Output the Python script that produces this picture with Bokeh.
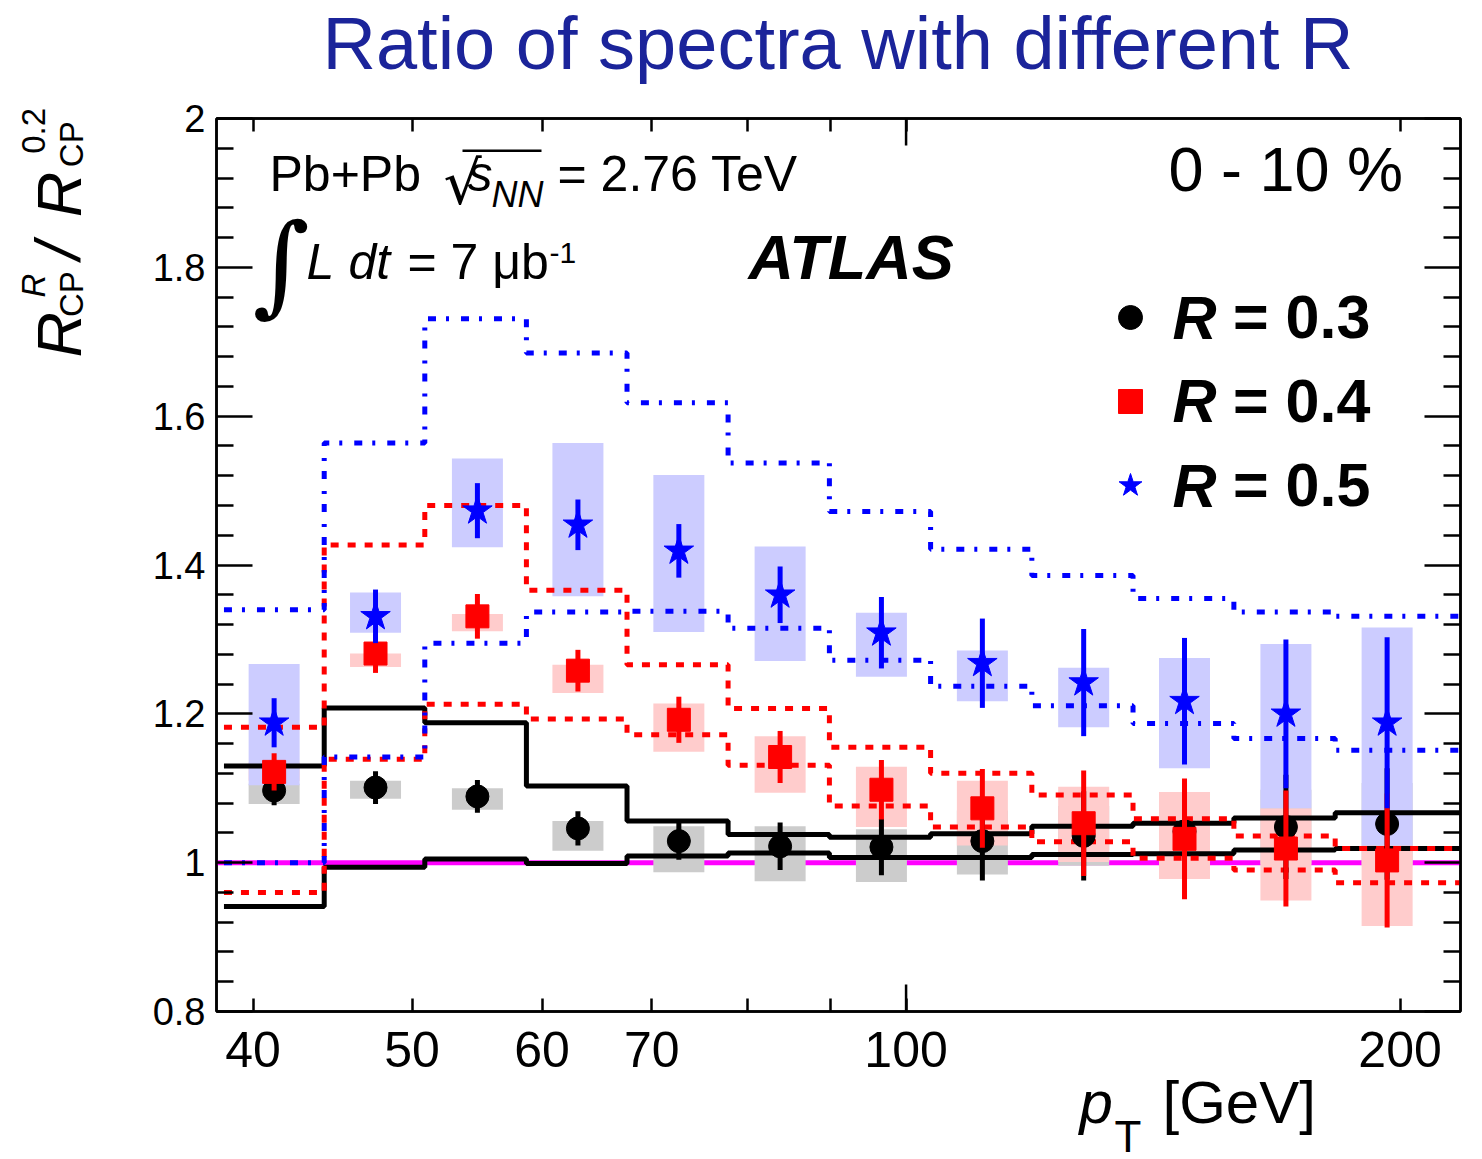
import math
from bokeh.plotting import figure
from bokeh.layouts import column, row
from bokeh.models import (Label, LinearAxis, LogAxis, FixedTicker, CustomJSTickFormatter,
                          PrintfTickFormatter, Legend, LegendItem, BoxAnnotation, Span)
from bokeh.core.properties import value
from bokeh.embed import file_html
from bokeh.resources import INLINE

# ---------------- data ----------------
pt_center = [41.2, 47.5, 54.8, 63.1, 72.7, 83.8, 96.6, 111.3, 128.3, 147.8, 170.4, 196.4]
bin_edges = [38.4, 44.2, 50.9, 58.7, 67.6, 77.9, 89.8, 103.5, 119.3, 137.5, 158.4, 182.6, 240.0]

# R = 0.3 (black)
r03 = [1.097, 1.101, 1.089, 1.046, 1.029, 1.022, 1.021, 1.029, 1.036, 1.042, 1.048, 1.052]
r03_stat = [0.020, 0.022, 0.022, 0.023, 0.025, 0.032, 0.038, 0.053, 0.060, 0.065, 0.070, 0.075]
r03_sys_lo = [1.079, 1.086, 1.071, 1.016, 0.987, 0.975, 0.974, 0.984, 0.996, 0.995, 0.998, 0.997]
r03_sys_hi = [1.106, 1.110, 1.100, 1.056, 1.049, 1.049, 1.045, 1.070, 1.076, 1.085, 1.098, 1.107]
r03_band_hi = [1.130, 1.208, 1.188, 1.103, 1.056, 1.038, 1.034, 1.039, 1.049, 1.053, 1.060, 1.067]
r03_band_lo = [0.941, 0.994, 1.005, 0.999, 1.009, 1.013, 1.007, 1.007, 1.011, 1.012, 1.017, 1.019]

# R = 0.4 (red)
r04 = [1.122, 1.281, 1.331, 1.258, 1.192, 1.142, 1.098, 1.073, 1.053, 1.032, 1.019, 1.003]
r04_stat = [0.025, 0.026, 0.030, 0.028, 0.031, 0.035, 0.040, 0.053, 0.071, 0.081, 0.078, 0.090]
r04_sys_lo = [1.110, 1.263, 1.311, 1.228, 1.149, 1.094, 1.048, 1.023, 1.001, 0.978, 0.949, 0.915]
r04_sys_hi = [1.135, 1.281, 1.334, 1.266, 1.214, 1.170, 1.129, 1.110, 1.102, 1.095, 1.073, 1.023]
r04_band_hi = [1.182, 1.427, 1.480, 1.366, 1.266, 1.207, 1.155, 1.120, 1.091, 1.059, 1.036, 1.019]
r04_band_lo = [0.960, 1.139, 1.213, 1.193, 1.172, 1.131, 1.076, 1.048, 1.028, 1.006, 0.990, 0.973]

# R = 0.5 (blue)
r05 = [1.188, 1.331, 1.473, 1.454, 1.419, 1.360, 1.309, 1.268, 1.242, 1.217, 1.200, 1.188]
r05_stat = [0.033, 0.036, 0.037, 0.034, 0.036, 0.038, 0.048, 0.060, 0.072, 0.085, 0.100, 0.115]
r05_sys_lo = [1.104, 1.309, 1.424, 1.358, 1.310, 1.271, 1.250, 1.217, 1.182, 1.127, 1.073, 1.023]
r05_sys_hi = [1.267, 1.363, 1.543, 1.564, 1.521, 1.425, 1.336, 1.285, 1.262, 1.275, 1.294, 1.316]
r05_band_hi = [1.340, 1.564, 1.731, 1.685, 1.618, 1.537, 1.472, 1.421, 1.386, 1.355, 1.337, 1.331]
r05_band_lo = [1.000, 1.142, 1.295, 1.337, 1.338, 1.315, 1.272, 1.237, 1.211, 1.187, 1.167, 1.151]

x_major = [40, 50, 60, 70, 100, 200]
x_minor = [80, 90]
y_major = [0.8, 1.0, 1.2, 1.4, 1.6, 1.8, 2.0]
y_minor = [round(0.8 + 0.04 * i, 2) for i in range(31) if i % 5 != 0]

# ---------------- page layout (pixels) ----------------
W, H = 1482, 1159
YLAB_W = 100            # left strip (rotated y title), full height
RW = W - YLAB_W         # right column width
TITLE_H = 95            # title strip height
FL, FR, FT, FB = 216, 1460, 118, 1011   # frame edges on the page
MAIN_BOTTOM = 1089      # bottom of the main figure (holds the x tick labels)
OVERLAP = 38            # x-title strip overlaps the bottom of the main figure
FONT = "Liberation Sans"
K_BASE = 0.375          # Label anchor offset above the alphabetic baseline (em)


def label(fig, ox, obottom, x, ybase, text, size, style="normal", color="black",
          angle=0.0, font=FONT):
    """Text at page coords (x, baseline y) in a figure whose frame has left edge ox and
    bottom edge obottom on the page."""
    if angle == 0.0:
        sx, sy = x - ox, obottom - (ybase - K_BASE * size)
    else:  # rotated 90 deg ccw: x is the baseline, ybase is where the text starts
        sx, sy = (x - K_BASE * size) - ox, obottom - ybase
    fig.add_layout(Label(x=sx, y=sy, x_units="screen", y_units="screen", text=text,
                         text_font=font, text_font_size=f"{size}px", text_font_style=style,
                         text_color=color, text_baseline="alphabetic", text_align="left",
                         angle=angle))


def blank_fig(w, h, left=0, right=0, top=0, bottom=0, fill="white", **kw):
    f = figure(width=w, height=h, x_range=(0, 1), y_range=(0, 1),
               min_border_left=left, min_border_right=right, min_border_top=top,
               min_border_bottom=bottom, toolbar_location=None, x_axis_location=None,
               y_axis_location=None, output_backend="svg", **kw)
    f.center = []
    f.outline_line_color = None
    f.background_fill_color = fill
    f.border_fill_color = fill
    return f

# ---------------- main figure ----------------
MAIN_H = MAIN_BOTTOM - TITLE_H
p = figure(width=RW, height=MAIN_H, x_axis_type="log", x_range=(38.0, 217.7),
           y_range=(0.8, 2.0), output_backend="svg", toolbar_location=None,
           min_border_left=FL - YLAB_W, min_border_right=W - FR,
           min_border_top=FT - TITLE_H, min_border_bottom=MAIN_BOTTOM - FB)
p.xgrid.visible = False
p.ygrid.visible = False
p.outline_line_color = "black"
p.outline_line_width = 2.5
p.background_fill_color = "white"
p.border_fill_color = "white"


def style_axis(ax, tick_in, minor_in):
    ax.axis_line_width = 2.5
    ax.major_tick_line_width = 2.5
    ax.minor_tick_line_width = 2.5
    ax.major_tick_in = tick_in
    ax.major_tick_out = 0
    ax.minor_tick_in = minor_in
    ax.minor_tick_out = 0
    ax.major_label_text_font = FONT
    ax.major_label_text_color = "black"

blank = CustomJSTickFormatter(code="return ''")

xa = p.xaxis[0]
xa.ticker = FixedTicker(ticks=x_major, minor_ticks=x_minor)
xa.formatter = PrintfTickFormatter(format="%d")
style_axis(xa, 13, 13)
xa.major_label_text_font_size = "50px"
xa.major_label_standoff = 20

ya = p.yaxis[0]
ya.ticker = FixedTicker(ticks=y_major, minor_ticks=y_minor)
ya.formatter = CustomJSTickFormatter(code="return String(Math.round(tick*10)/10)")
style_axis(ya, 36, 17)
ya.major_label_text_font_size = "38px"
ya.major_label_standoff = 11

top = LogAxis(ticker=FixedTicker(ticks=x_major, minor_ticks=x_minor), formatter=blank)
style_axis(top, 13, 13)
top.major_label_text_font_size = "1px"
top.major_label_standoff = 0
p.add_layout(top, "above")
right = LinearAxis(ticker=FixedTicker(ticks=y_major, minor_ticks=y_minor), formatter=blank)
style_axis(right, 36, 17)
right.major_label_text_font_size = "1px"
right.major_label_standoff = 0
p.add_layout(right, "right")

# longer decade tick at 100 (bottom and top)
TICK_LONG = 27 * (2.0 - 0.8) / (FB - FT)
p.segment(x0=[100, 100], x1=[100, 100], y0=[0.8, 2.0 - TICK_LONG], y1=[0.8 + TICK_LONG, 2.0],
          line_width=2.5, color="black")

# reference line at 1
p.add_layout(Span(location=1.0, dimension="width", line_color="#ff00ff", line_width=5,
                  level="underlay"))

# systematic boxes
def sys_boxes(lo, hi, color):
    p.rect(x=pt_center, y=[(a + b) / 2 for a, b in zip(lo, hi)], width=51, width_units="screen",
           height=[b - a for a, b in zip(lo, hi)], fill_color=color, line_color=None)

sys_boxes(r03_sys_lo, r03_sys_hi, "#cccccc")
sys_boxes(r04_sys_lo, r04_sys_hi, "#ffcccc")
sys_boxes(r05_sys_lo, r05_sys_hi, "#ccccff")

# bands (step lines)
def band(vals, color, dash):
    p.step(x=bin_edges, y=vals + [vals[-1]], mode="after", line_width=5, line_color=color,
           line_dash=dash)

band(r03_band_hi, "black", "solid")
band(r03_band_lo, "black", "solid")
band(r04_band_hi, "#ff0000", "8 9")
band(r04_band_lo, "#ff0000", "8 9")
band(r05_band_hi, "#0000ff", "8 10 3 12")
band(r05_band_lo, "#0000ff", "8 10 3 12")

# points with stat errors
def points(vals, err, color, marker, size):
    p.segment(x0=pt_center, x1=pt_center, y0=[v - e for v, e in zip(vals, err)],
              y1=[v + e for v, e in zip(vals, err)], line_width=5, color=color)
    return p.scatter(x=pt_center, y=vals, marker=marker, size=size, color=color)

rc = points(r03, r03_stat, "black", "circle", 23)
rs = points(r04, r04_stat, "#ff0000", "square", 23)
rt = points(r05, r05_stat, "#0000ff", "star", 31)

# legend
leg = Legend(items=[LegendItem(label=value("= 0.3"), renderers=[rc]),
                    LegendItem(label=value("= 0.4"), renderers=[rs]),
                    LegendItem(label=value("= 0.5"), renderers=[rt])],
             location=(1100 - FL, FB - 519.7), glyph_width=60, glyph_height=70, spacing=14,
             padding=0, margin=0, border_line_alpha=0, background_fill_alpha=0,
             label_standoff=73, label_text_font=FONT, label_text_font_size="61px",
             label_text_font_style="bold", label_text_color="black")
p.add_layout(leg)

def ptxt(x, y, text, size, style="normal", font=FONT):
    label(p, FL, FB, x, y, text, size, style, font=font)

# energy line
ptxt(269, 192, "Pb+Pb", 50)
ptxt(443, 205, "\u221a", 60, font="DejaVu Sans")
p.add_layout(BoxAnnotation(left=462 - FL, right=541 - FL, top=FB - 149, bottom=FB - 151.5,
                           left_units="screen", right_units="screen", top_units="screen",
                           bottom_units="screen", fill_color="black", fill_alpha=1,
                           line_alpha=0))
ptxt(467, 192, "s", 50, "italic")
ptxt(491, 207, "NN", 36, "italic")
ptxt(557, 192, "= 2.76 TeV", 50)

# luminosity line
ptxt(252, 305, "\u222b", 110, font="DejaVu Serif")
ptxt(306, 280, "L", 50, "italic")
ptxt(348, 280, "dt", 50, "italic")
ptxt(407, 280, "= 7 \u03bcb", 50)
ptxt(549, 264, "-1", 30)

ptxt(748, 280, "ATLAS", 63, "bold italic")
ptxt(1168, 192, "0 - 10 %", 63)

for yb in (340, 423.3, 508.3):
    ptxt(1172, yb, "R", 61, "bold italic")

# ---------------- title strip ----------------
tfig = blank_fig(RW, TITLE_H, left=FL - YLAB_W, right=W - FR)
label(tfig, FL, TITLE_H, 322, 70.5, "Ratio of spectra with different R", 74, color="#1b249a")

# ---------------- bottom strip with the x title (transparent, overlaps tick-label area) -------
XS_H = H - MAIN_BOTTOM + OVERLAP
xfig = blank_fig(RW, XS_H, left=FL - YLAB_W, right=W - FR, fill=None,
                 margin=(-OVERLAP, 0, 0, 0))
label(xfig, FL, H, 1079, 1124, "p", 60, "italic")
label(xfig, FL, H, 1114, 1152, "T", 44)
label(xfig, FL, H, 1162, 1124, "[GeV]", 60)

# ---------------- left strip: rotated y title, full page height ----------------
yfig = blank_fig(YLAB_W, H)
A = math.pi / 2
label(yfig, 0, H, 82, 357, "R", 63, "italic", angle=A)
label(yfig, 0, H, 83, 316.5, "CP", 33, angle=A)
label(yfig, 0, H, 45, 297, "R", 33, "italic", angle=A)
label(yfig, 0, H, 81, 259, "/", 63, "italic", angle=A)
label(yfig, 0, H, 82, 216.7, "R", 63, "italic", angle=A)
label(yfig, 0, H, 83, 166.7, "CP", 33, angle=A)
label(yfig, 0, H, 45, 153.3, "0.2", 33, angle=A)

layout = row(yfig, column(tfig, p, xfig))
open("out.html", "w").write(file_html(layout, INLINE))
